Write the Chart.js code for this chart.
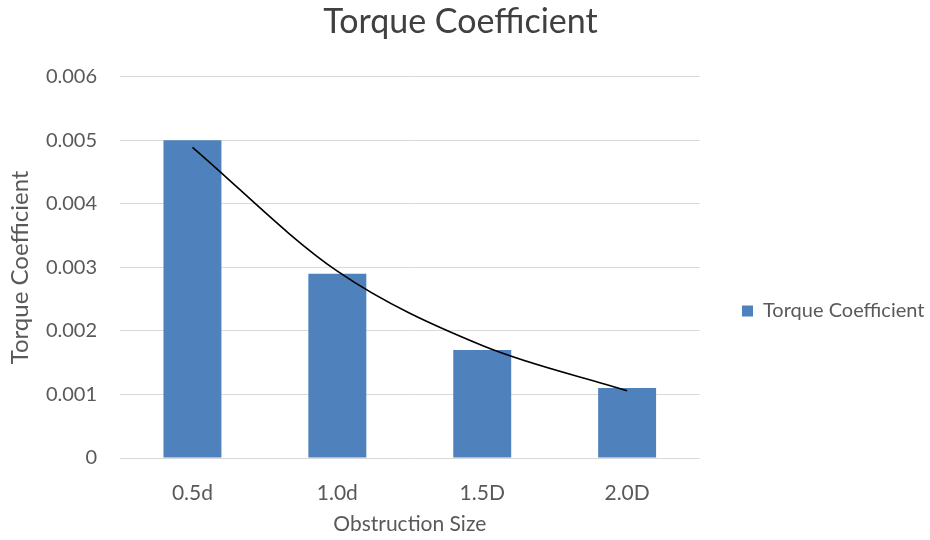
<!DOCTYPE html>
<html>
<head>
<meta charset="utf-8">
<script src="https://cdn.jsdelivr.net/npm/chart.js@4.4.1/dist/chart.umd.min.js"></script>
<style>
  html, body { margin: 0; padding: 0; background: #fff; }
  #wrap { width: 930px; height: 540px; }
</style>
</head>
<body>
<div id="wrap"><canvas id="chart"></canvas></div>
<script>
// data
const categories = ['0.5d', '1.0d', '1.5D', '2.0D'];
const torqueValues = [0.005, 0.0029, 0.0017, 0.0011];
// exponential trendline, read at each category centre
const trendValues = [0.00489, 0.00294, 0.00177, 0.00106];
const yTickLabels = ['0', '0.001', '0.002', '0.003', '0.004', '0.005', '0.006'];

const FONT = 'Lato, "Open Sans", sans-serif';
const TEXT = '#595959';
const GRID = '#d9d9d9';

// Excel puts the legend a bit below centre and away from the plot
const legendOffset = {
    id: 'legendOffset',
    afterLayout(chart) {
        const lg = chart.legend;
        const dx = 742 - lg.options.labels.padding - lg.left;
        const dy = 41;
        lg.left += dx; lg.right += dx;
        lg.top += dy; lg.bottom += dy;
    }
};

new Chart(document.getElementById('chart'), {
    data: {
        labels: categories,
        datasets: [
            {
                type: 'bar',
                label: 'Torque Coefficient',
                data: torqueValues,
                backgroundColor: '#4f81bd',
                borderWidth: 0,
                barPercentage: 0.4,
                categoryPercentage: 1,
                order: 1
            },
            {
                type: 'line',
                label: 'Trend',
                data: trendValues,
                borderColor: '#000',
                borderWidth: 1.6,
                pointRadius: 0,
                fill: false,
                cubicInterpolationMode: 'monotone',
                order: 0
            }
        ]
    },
    options: {
        responsive: true,
        maintainAspectRatio: false,
        animation: false,
        layout: { padding: { left: 3, right: 12, top: 0, bottom: 0 } },
        plugins: {
            title: {
                display: true,
                text: 'Torque Coefficient',
                color: '#404040',
                font: { family: FONT, size: 34, weight: 'normal' },
                padding: { top: 2, bottom: 34 }
            },
            legend: {
                position: 'right',
                labels: {
                    color: TEXT,
                    font: { family: FONT, size: 20 },
                    boxWidth: 11,
                    boxHeight: 11,
                    padding: 26,
                    filter: item => item.datasetIndex === 0
                }
            },
            tooltip: { enabled: false }
        },
        scales: {
            x: {
                grid: { display: false },
                border: { display: false },
                ticks: {
                    color: TEXT,
                    font: { family: FONT, size: 21 },
                    padding: 15
                },
                title: {
                    display: true,
                    text: 'Obstruction Size',
                    color: TEXT,
                    font: { family: FONT, size: 21 },
                    padding: { top: 0, bottom: 3 }
                },
                afterFit: scale => { scale.height = 82; }
            },
            y: {
                min: 0,
                max: 0.006,
                ticks: {
                    stepSize: 0.001,
                    color: TEXT,
                    font: { family: FONT, size: 20 },
                    padding: 23,
                    callback: (value, index) => yTickLabels[index]
                },
                grid: { color: GRID, lineWidth: 1, drawTicks: false },
                border: { display: false },
                title: {
                    display: true,
                    text: 'Torque Coefficient',
                    color: TEXT,
                    font: { family: FONT, size: 24 },
                    padding: { top: 3, bottom: 0 }
                },
                afterFit: scale => { scale.width = 117; }
            }
        }
    },
    plugins: [legendOffset]
});
</script>
</body>
</html>
